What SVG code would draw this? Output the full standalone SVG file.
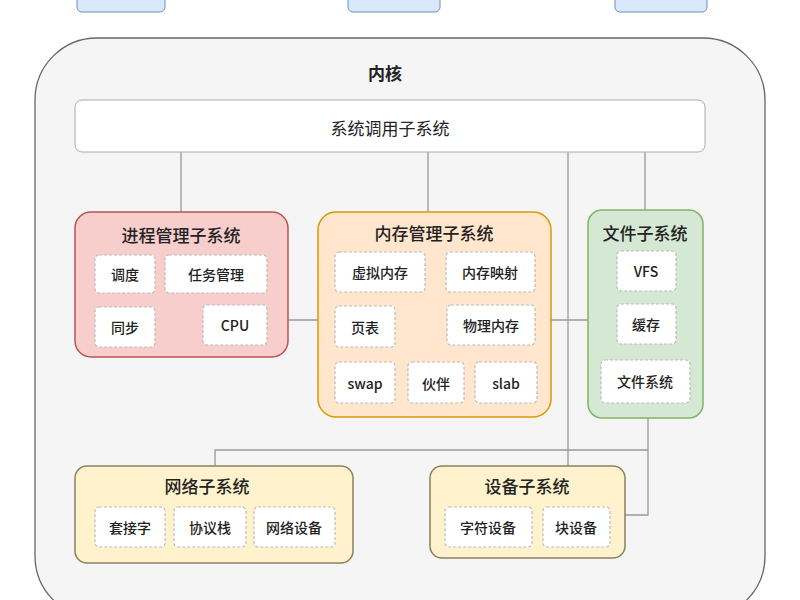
<svg xmlns="http://www.w3.org/2000/svg" width="800" height="600" viewBox="0 0 800 600">
<style>
text{font-family:"Noto Sans CJK SC","Liberation Sans",sans-serif;text-anchor:middle;dominant-baseline:central;fill:#222}
.t{font-size:17px;font-weight:500}
.i{font-size:14px;font-weight:500}
.item{fill:#fff;stroke:#bbb;stroke-dasharray:3 2;stroke-width:1.2}
.c{fill:none;stroke:#999;stroke-width:1.3}
.sub{stroke-width:1.5}
</style>
<rect width="800" height="600" fill="#fff"/>
<g id="top">
<rect x="77" y="-10" width="88" height="22" rx="5" fill="#dae8fc" stroke="#6c8ebf"/>
<rect x="348" y="-10" width="92" height="22" rx="5" fill="#dae8fc" stroke="#6c8ebf"/>
<rect x="615" y="-10" width="92" height="22" rx="5" fill="#dae8fc" stroke="#6c8ebf"/>
</g>
<g id="kernel">
<rect x="35" y="38" width="730" height="580" rx="62" fill="#f5f5f5" stroke="#666" stroke-width="1.3"/>
<text x="385" y="72" class="t" style="font-weight:bold">内核</text>
</g>
<g id="connectors">
<path class="c" d="M181 152V212M428 152V212M568 152V466M645 152V210M288 320H318M551 320H588M648 418V515H625M648 450H215V466"/>
</g>
<g id="syscall">
<rect x="75" y="100" width="630" height="52" rx="7" fill="#fff" stroke="#aaa"/>
<text x="390" y="127" class="t" style="font-weight:400">系统调用子系统</text>
</g>
<g id="proc">
<rect class="sub" x="75" y="212" width="213" height="145" rx="16" fill="#f8cecc" stroke="#b85450"/>
<text x="181" y="234" class="t">进程管理子系统</text>
<rect class="item" x="95" y="255" width="60" height="38" rx="4"/><text x="125" y="274" class="i">调度</text>
<rect class="item" x="165" y="255" width="102" height="38" rx="4"/><text x="216" y="274" class="i">任务管理</text>
<rect class="item" x="95" y="307" width="60" height="40" rx="4"/><text x="125" y="327" class="i">同步</text>
<rect class="item" x="203" y="305" width="64" height="40" rx="4"/><text x="235" y="325" class="i">CPU</text>
</g>
<g id="mem">
<rect class="sub" x="318" y="212" width="233" height="205" rx="18" fill="#ffe6cc" stroke="#d79b00"/>
<text x="434" y="232" class="t">内存管理子系统</text>
<rect class="item" x="335" y="252" width="90" height="40" rx="4"/><text x="380" y="272" class="i">虚拟内存</text>
<rect class="item" x="446" y="252" width="89" height="40" rx="4"/><text x="490" y="272" class="i">内存映射</text>
<rect class="item" x="335" y="306" width="60" height="41" rx="4"/><text x="365" y="327" class="i">页表</text>
<rect class="item" x="447" y="305" width="88" height="40" rx="4"/><text x="491" y="325" class="i">物理内存</text>
<rect class="item" x="335" y="362" width="60" height="41" rx="4"/><text x="365" y="383" class="i">swap</text>
<rect class="item" x="408" y="362" width="56" height="41" rx="4"/><text x="436" y="383" class="i">伙伴</text>
<rect class="item" x="475" y="362" width="62" height="41" rx="4"/><text x="506" y="383" class="i">slab</text>
</g>
<g id="file">
<rect class="sub" x="588" y="210" width="115" height="208" rx="14" fill="#d5e8d4" stroke="#82b366"/>
<text x="645" y="232" class="t">文件子系统</text>
<rect class="item" x="617" y="251" width="59" height="40" rx="4"/><text x="646" y="271" class="i">VFS</text>
<rect class="item" x="617" y="304" width="59" height="40" rx="4"/><text x="646" y="324" class="i">缓存</text>
<rect class="item" x="601" y="360" width="89" height="43" rx="4"/><text x="645" y="381" class="i">文件系统</text>
</g>
<g id="net">
<rect class="sub" x="75" y="466" width="278" height="97" rx="12" fill="#fff2cc" stroke="#8a8060"/>
<text x="207" y="485" class="t">网络子系统</text>
<rect class="item" x="95" y="507" width="70" height="40" rx="4"/><text x="130" y="527" class="i">套接字</text>
<rect class="item" x="174" y="507" width="72" height="40" rx="4"/><text x="210" y="527" class="i">协议栈</text>
<rect class="item" x="254" y="507" width="81" height="40" rx="4"/><text x="294" y="527" class="i">网络设备</text>
</g>
<g id="dev">
<rect class="sub" x="430" y="466" width="195" height="92" rx="12" fill="#fff2cc" stroke="#8a8060"/>
<text x="527" y="485" class="t">设备子系统</text>
<rect class="item" x="445" y="507" width="87" height="40" rx="4"/><text x="488" y="527" class="i">字符设备</text>
<rect class="item" x="543" y="507" width="67" height="40" rx="4"/><text x="576" y="527" class="i">块设备</text>
</g>
</svg>
